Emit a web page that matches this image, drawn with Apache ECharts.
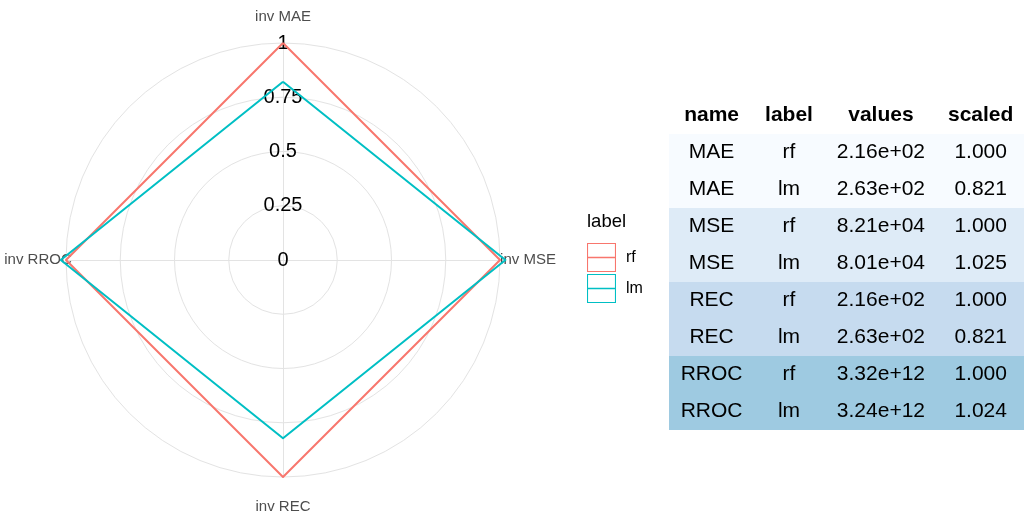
<!DOCTYPE html>
<html>
<head>
<meta charset="utf-8">
<title>radar</title>
<script src="https://cdn.jsdelivr.net/npm/echarts@6/dist/echarts.min.js"></script>
<style>
  html, body { margin: 0; padding: 0; background: #fff; }
  #main { width: 1024px; height: 517px; }
</style>
</head>
<body>
<div id="main"></div>
<script>
// table / chart data
const tableColumns = ['name', 'label', 'values', 'scaled'];
const metricNames = ['MAE', 'MAE', 'MSE', 'MSE', 'REC', 'REC', 'RROC', 'RROC'];
const modelLabels = ['rf', 'lm', 'rf', 'lm', 'rf', 'lm', 'rf', 'lm'];
const rawValues = ['2.16e+02', '2.63e+02', '8.21e+04', '8.01e+04', '2.16e+02', '2.63e+02', '3.32e+12', '3.24e+12'];
const scaledValues = [1.000, 0.821, 1.000, 1.025, 1.000, 0.821, 1.000, 1.024];
const models = ['rf', 'lm'];
// echarts radar goes counter-clockwise: top, left, bottom, right
const radarOrder = ['MAE', 'RROC', 'REC', 'MSE'];
const radialTicks = [0, 0.25, 0.5, 0.75, 1];

// styles
const modelColors = { rf: '#F8766D', lm: '#00BFC4' };
const bandColors = { MAE: '#F7FBFF', MSE: '#DEEBF7', REC: '#C6DBEF', RROC: '#9ECAE1' };
const colCenters = [0.12, 0.338, 0.597, 0.878];   // x position of each table column (0..1 across the table)
const nameGaps = [26, 28, 30, 28];
const FONT = '"Liberation Sans", Arial, sans-serif';

function valueFor(metric, model) {
  for (let i = 0; i < metricNames.length; i++) {
    if (metricNames[i] === metric && modelLabels[i] === model) return scaledValues[i];
  }
  return null;
}

const radarSeriesData = models.map(function (m) {
  return {
    name: m,
    value: radarOrder.map(function (k) { return valueFor(k, m); }),
    lineStyle: { color: modelColors[m], width: 2 },
    itemStyle: { color: modelColors[m] }
  };
});

const indicators = radarOrder.map(function (k, i) {
  const ind = {
    name: 'inv ' + k,
    min: radialTicks[0],
    max: radialTicks[radialTicks.length - 1],
    nameGap: nameGaps[i]
  };
  if (i === 0) {
    ind.axisLabel = {
      show: true, color: '#000', fontSize: 20, fontFamily: FONT,
      margin: 0, align: 'center', verticalAlign: 'middle'
    };
  }
  return ind;
});

// table cells
const rowNames = ['header'];
for (let i = 0; i < metricNames.length; i++) rowNames.push('r' + i);

const bandData = metricNames.map(function (m, i) { return [0, i + 1]; });
const cells = [];
tableColumns.forEach(function (c, j) { cells.push({ col: j, row: 0, text: c, bold: true }); });
for (let i = 0; i < metricNames.length; i++) {
  const rowVals = [metricNames[i], modelLabels[i], rawValues[i], scaledValues[i].toFixed(3)];
  rowVals.forEach(function (t, j) { cells.push({ col: j, row: i + 1, text: t, bold: false }); });
}

const legendIcon = 'path://M0,0 H30 V30 H0 Z M1.1,1.1 V28.9 H28.9 V1.1 Z M1.1,14.2 H28.9 V15.8 H1.1 Z';

const myChart = echarts.init(document.getElementById('main'));
myChart.setOption({
  backgroundColor: '#fff',
  animation: false,
  textStyle: { fontFamily: FONT },
  title: {
    text: 'label',
    left: 587, top: 212, padding: 0,
    textStyle: { fontSize: 18.5, fontWeight: 'normal', color: '#000', fontFamily: FONT }
  },
  legend: {
    orient: 'vertical',
    left: 587, top: 243,
    padding: 0,
    itemWidth: 29, itemHeight: 29, itemGap: 2,
    textStyle: { fontSize: 16, color: '#000', fontFamily: FONT, padding: [0, 0, 0, 5] },
    data: models.map(function (m) {
      return { name: m, icon: legendIcon, itemStyle: { color: modelColors[m], borderWidth: 0 } };
    })
  },
  radar: {
    center: [283, 260],
    radius: 217,
    shape: 'circle',
    splitNumber: 4,
    indicator: indicators,
    axisName: { color: '#4D4D4D', fontSize: 15, fontFamily: FONT, align: 'center', verticalAlign: 'middle' },
    nameGap: 28,
    axisLabel: { show: false },
    axisLine: { lineStyle: { color: '#E3E3E3', width: 1 } },
    axisTick: { show: false },
    splitLine: { lineStyle: { color: '#E3E3E3', width: 1 } },
    splitArea: { show: false }
  },
  grid: { left: 669, top: 97, width: 355, height: 333 },
  xAxis: { type: 'value', min: 0, max: 1, show: false },
  yAxis: { type: 'category', data: rowNames, inverse: true, show: false },
  series: [
    {
      type: 'radar',
      symbol: 'none',
      data: radarSeriesData
    },
    {
      type: 'custom',
      silent: true,
      data: bandData,
      renderItem: function (params, api) {
        const row = api.value(1);
        const a = api.coord([0, row]);
        const b = api.coord([1, row]);
        const h = api.size([0, 1])[1];
        return {
          type: 'rect',
          shape: { x: a[0], y: a[1] - h / 2, width: b[0] - a[0], height: h },
          style: { fill: bandColors[metricNames[params.dataIndex]] }
        };
      }
    },
    {
      type: 'custom',
      silent: true,
      z: 5,
      data: cells.map(function (c) { return [colCenters[c.col], c.row]; }),
      renderItem: function (params, api) {
        const c = cells[params.dataIndex];
        const p = api.coord([api.value(0), api.value(1)]);
        return {
          type: 'text',
          x: p[0], y: p[1],
          style: {
            text: c.text,
            x: 0, y: 0,
            align: 'center',
            verticalAlign: 'middle',
            fill: '#000',
            font: (c.bold ? 'bold ' : '') + '21px ' + FONT
          }
        };
      }
    }
  ]
});
</script>
</body>
</html>
